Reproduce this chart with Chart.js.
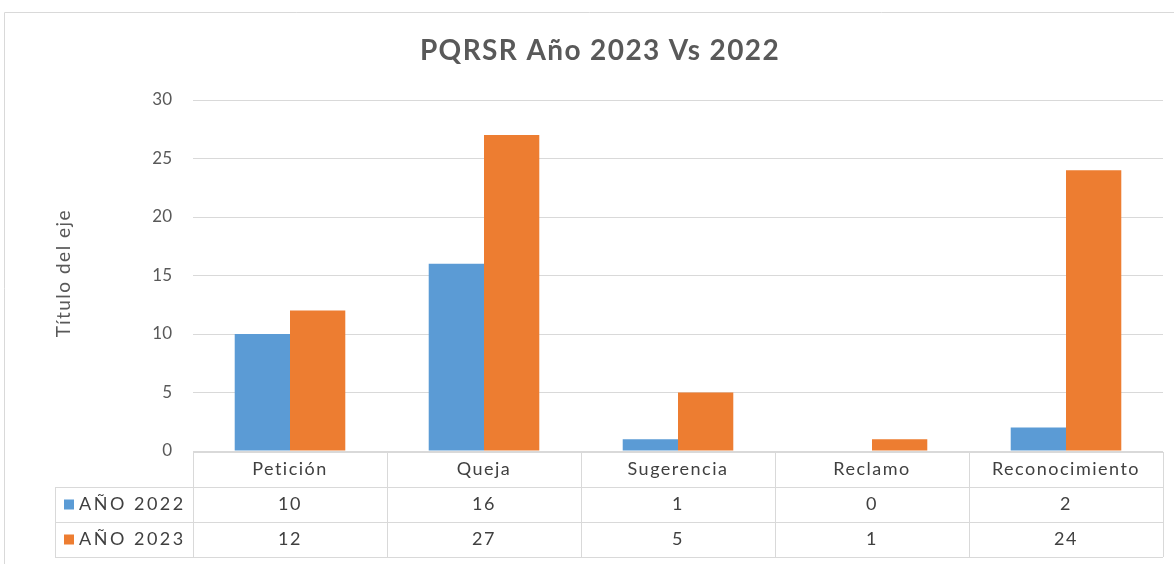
<!DOCTYPE html>
<html>
<head>
<meta charset="utf-8">
<script src="https://cdn.jsdelivr.net/npm/chart.js@4"></script>
<style>
  html, body { margin: 0; padding: 0; background: #fff; }
  #wrap { width: 1174px; height: 564px; position: relative; }
</style>
</head>
<body>
<div id="wrap"><canvas id="pqrsrChart"></canvas></div>
<script>
const categorias = ['Petición', 'Queja', 'Sugerencia', 'Reclamo', 'Reconocimiento'];
const anio2022 = [10, 16, 1, 0, 2];
const anio2023 = [12, 27, 5, 1, 24];
const etiquetasSeries = ['AÑO 2022', 'AÑO 2023'];
const coloresSeries = ['#5B9BD5', '#ED7D31'];
const yTicks = [0, 5, 10, 15, 20, 25, 30];
const titulo = 'PQRSR Año 2023 Vs 2022';
const tituloEje = 'Título del eje';

const fuente = 'Lato, "Open Sans", sans-serif';
const gris = '#d9d9d9';

// título, título del eje y tabla de datos (estilo Excel)
const tablaDatos = {
    id: 'tablaDatos',
    afterDraw(chart) {
        const c = chart.ctx;
        const area = chart.chartArea;
        const x = chart.scales.x;
        const anchoCat = (area.right - area.left) / categorias.length;
        const filaH = 35;
        const top = area.bottom + 1;
        const izq = 55;
        const series = [anio2022, anio2023];

        c.save();
        // borde exterior del gráfico
        c.strokeStyle = gris;
        c.lineWidth = 1;
        c.beginPath();
        c.moveTo(4.5, 564);
        c.lineTo(4.5, 12.5);
        c.lineTo(1174, 12.5);
        c.stroke();

        // título
        c.fillStyle = '#595959';
        c.textAlign = 'center';
        c.textBaseline = 'middle';
        c.letterSpacing = '1.4px';
        c.font = 'bold 28px ' + fuente;
        c.fillText(titulo, 600, 51);

        // título del eje
        c.save();
        c.translate(64, 273);
        c.rotate(-Math.PI / 2);
        c.letterSpacing = '1.5px';
        c.font = '19px ' + fuente;
        c.fillText(tituloEje, 0, 0);
        c.restore();

        // líneas de la tabla
        c.beginPath();
        c.moveTo(area.left, top + 0.5);
        c.lineTo(area.right, top + 0.5);
        for (let r = 1; r <= 3; r++) {
            c.moveTo(izq, top + r * filaH + 0.5);
            c.lineTo(area.right, top + r * filaH + 0.5);
        }
        c.moveTo(izq + 0.5, top + filaH);
        c.lineTo(izq + 0.5, top + 3 * filaH);
        for (let i = 0; i <= categorias.length; i++) {
            const xx = Math.round(area.left + i * anchoCat) + 0.5;
            c.moveTo(xx, top);
            c.lineTo(xx, top + 3 * filaH);
        }
        c.stroke();

        // textos de la tabla
        c.font = '18px ' + fuente;
        c.letterSpacing = '1.5px';
        c.fillStyle = '#404040';
        c.textAlign = 'center';
        categorias.forEach((cat, i) => {
            const cx = x.getPixelForValue(i);
            c.fillText(cat, cx, top + filaH / 2);
            series.forEach((s, r) => {
                c.fillText(String(s[i]), cx, top + filaH * (r + 1.5));
            });
        });

        c.textAlign = 'left';
        c.letterSpacing = '2.5px';
        etiquetasSeries.forEach((lab, r) => {
            const cy = top + filaH * (r + 1.5);
            c.fillStyle = coloresSeries[r];
            c.fillRect(64, cy - 5, 10, 10);
            c.fillStyle = '#404040';
            c.fillText(lab, 79, cy);
        });
        c.restore();
    }
};

new Chart(document.getElementById('pqrsrChart'), {
    type: 'bar',
    data: {
        labels: categorias,
        datasets: [
            { label: etiquetasSeries[0], data: anio2022, backgroundColor: coloresSeries[0] },
            { label: etiquetasSeries[1], data: anio2023, backgroundColor: coloresSeries[1] }
        ]
    },
    options: {
        responsive: true,
        maintainAspectRatio: false,
        animation: false,
        layout: { padding: { left: 0, right: 11, top: 100, bottom: 113 } },
        plugins: {
            legend: { display: false },
            tooltip: { enabled: false },
            title: { display: false }
        },
        datasets: { bar: { categoryPercentage: 0.57, barPercentage: 1.0 } },
        scales: {
            x: {
                ticks: { display: false },
                grid: { display: false, drawTicks: false },
                border: { display: false }
            },
            y: {
                min: 0,
                max: 30,
                afterBuildTicks: s => { s.ticks = yTicks.map(v => ({ value: v })); },
                afterFit: s => { s.width = 193; },
                ticks: {
                    color: '#595959',
                    padding: 21,
                    font: { family: fuente, size: 17 }
                },
                grid: { color: gris, drawTicks: false },
                border: { display: false }
            }
        }
    },
    plugins: [tablaDatos]
});
</script>
</body>
</html>
